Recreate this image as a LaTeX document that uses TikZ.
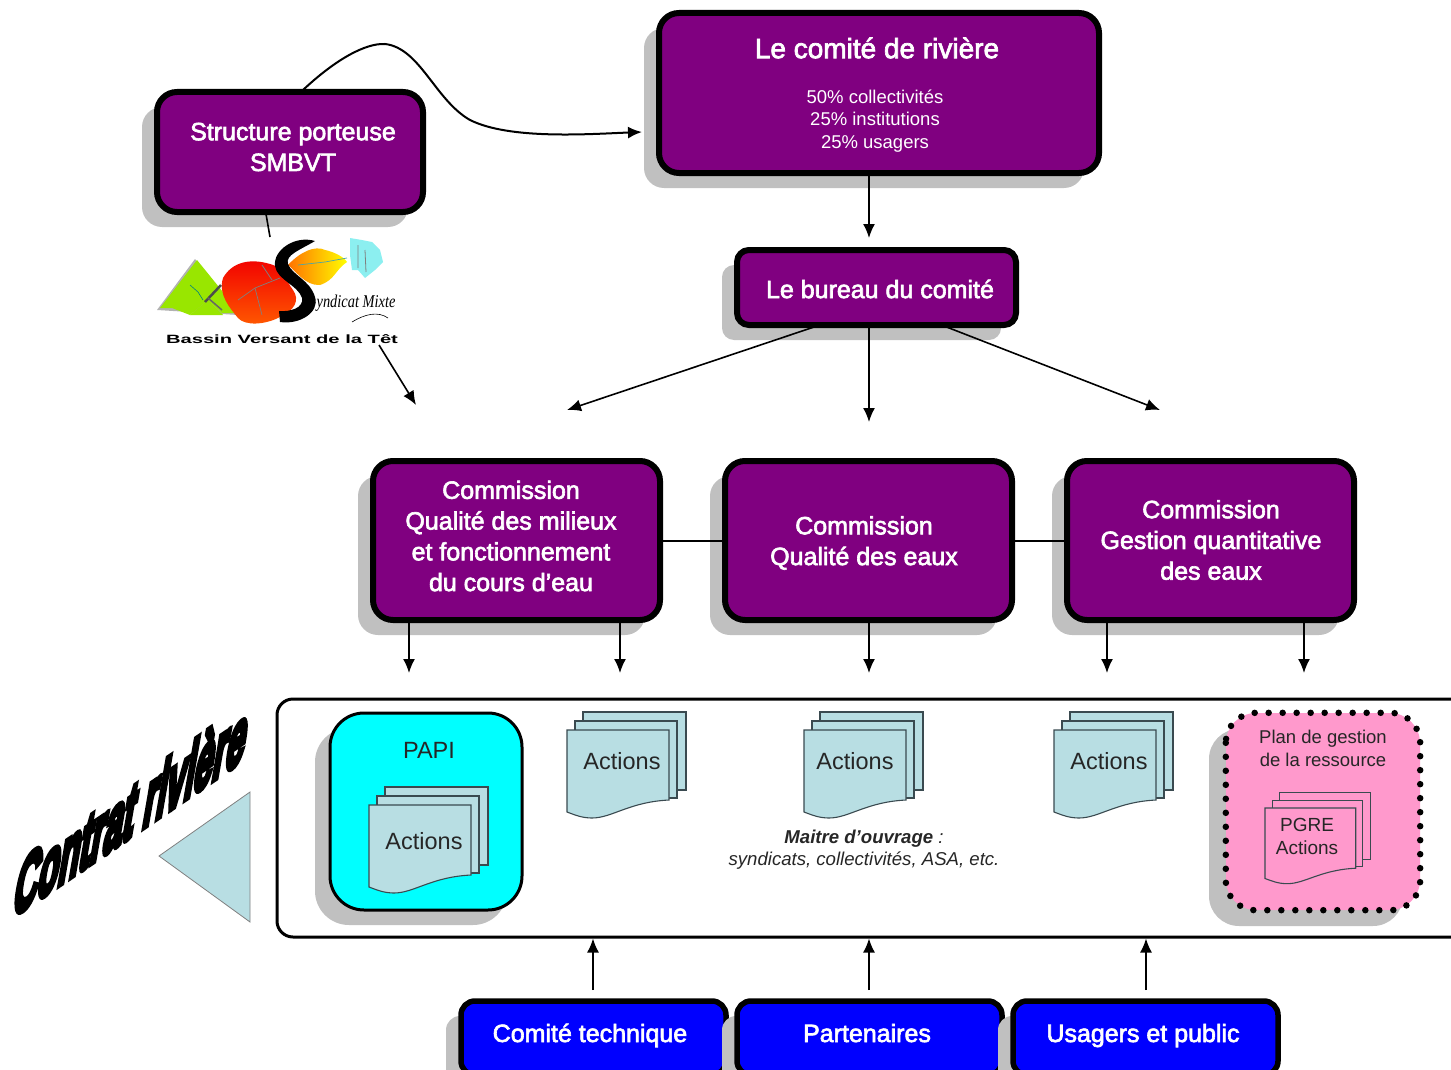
\documentclass[tikz,border=0pt]{standalone}
\usepackage{fontspec}
\setmainfont{Liberation Sans}
\newfontfamily\wordart[FakeBold=9]{Liberation Sans Bold}
\newfontfamily\softbold[FakeBold=2.5]{Liberation Sans}
\usetikzlibrary{arrows.meta,shadows}
\definecolor{purp}{HTML}{800080}
\definecolor{shade}{HTML}{C0C0C0}
\definecolor{pale}{HTML}{B8DEE3}
\definecolor{pinkish}{HTML}{FF99CC}
\definecolor{doc}{HTML}{3A4A50}
\definecolor{leaf}{HTML}{99E600}
\definecolor{aqua}{HTML}{00FFFF}
\definecolor{ice}{HTML}{8CEFF0}
\newcommand{\fs}[1]{\fontsize{#1}{\fpeval{#1*1.23}}\selectfont}
\tikzset{
  x=1pt,y=-1pt,
  shadowed/.style={general shadow={fill=shade,draw=none,shadow xshift=-15pt,shadow yshift=-15pt}},
  box/.style={shadowed,draw=black,rounded corners=20,line width=6,fill=purp,inner sep=0},
  bluebox/.style={shadowed,draw=black,rounded corners=14,line width=5.5,fill=blue,inner sep=0},
  wlabel/.style={text=white,align=center,font=\softbold\fs{25},inner sep=0},
  dlabel/.style={text=black!85,align=center,font=\fs{23.5},inner sep=0},
  conn/.style={line width=1.6,draw=black},
  arr/.style={conn,-{Latex[length=14,width=12]}},
  sheet/.style={draw=doc,line width=1.1,fill=pale},
}
% #1 position, #2 sheet fill, #3 x scale, #4 y scale
\newcommand{\docstack}[4]{%
  \begin{scope}[shift={#1},xscale=#3,yscale=#4]
    \draw[sheet,fill=#2] (16,-18) rectangle (119,60);
    \draw[sheet,fill=#2] (8,-9) rectangle (110,68);
    \draw[sheet,fill=#2] (0,0) -- (102,0) -- (102,70) .. controls (62,72) and (45,88) .. (25,88) .. controls (15,88) and (8,85) .. (0,82) -- cycle;
  \end{scope}}
\begin{document}
\begin{tikzpicture}
\useasboundingbox (0,0) rectangle (1451,1070);
\clip (0,0) rectangle (1451,1070);

% named free ends
\coordinate (cA) at (869,238);
\coordinate (t1) at (567,410);
\coordinate (t2) at (869,422);
\coordinate (t3) at (1160,410);
\coordinate (t0) at (416,405);
\coordinate (a1) at (409,673);
\coordinate (a2) at (620,673);
\coordinate (a3) at (869,673);
\coordinate (a4) at (1107,673);
\coordinate (a5) at (1304,673);

% boxes
\node[box,minimum width=266,minimum height=120] (structure) at (290,152) {};
\node[wlabel] (structureT) at (293,147) {Structure porteuse\\SMBVT};
\node[box,minimum width=440,minimum height=160] (comite) at (879,93) {};
\node[wlabel,font=\softbold\fs{28}] (comiteT) at (877,48) {Le comité de rivière};
\node[text=white,align=center,font=\fs{18.5},inner sep=0] (comiteL) at (875,121) {50\% collectivités\\[-0.2pt]25\% institutions\\[-0.2pt]25\% usagers};
\node[box,rounded corners=12,minimum width=279,minimum height=75] (bureau) at (876.5,287.5) {};
\node[wlabel] (bureauT) at (880,289) {Le bureau du comité};
\node[box,minimum width=287,minimum height=159] (c1) at (516.5,540.5) {};
\node[box,minimum width=287,minimum height=159] (c2) at (868.5,540.5) {};
\node[box,minimum width=287,minimum height=159] (c3) at (1210.5,540.5) {};
\node[wlabel] (c1T) at (511,536) {Commission\\Qualité des milieux\\et fonctionnement\\du cours d’eau};
\node[wlabel] (c2T) at (864,543) {Commission\\Qualité des eaux};
\node[wlabel] (c3T) at (1211,540) {Commission\\Gestion quantitative\\des eaux};

% connectors
\draw[conn] (c1.east |- 0,541) -- (c2.west |- 0,541);
\draw[conn] (c2.east |- 0,541) -- (c3.west |- 0,541);
\draw[arr] (comite.south -| cA) -- (cA);
\draw[arr] (bureau.south -| t2) -- (t2);
\coordinate (b1) at (817,326);
\coordinate (b3) at (944,326);
\draw[arr] (b1) -- (t1);
\draw[arr] (b3) -- (t3);
\foreach \c/\t in {c1/a1,c1/a2,c2/a3,c3/a4,c3/a5} \draw[arr] (\c.south -| \t) -- (\t);

% curve from structure to comite
\coordinate (s1) at (303,90);
\coordinate (s2) at (642,132);
\draw[arr,line width=2] (s1) .. controls (335,60) and (365,43) .. (385,44) .. controls (420,48) and (435,100) .. (470,120) .. controls (510,140) and (590,134) .. (s2);

% logo
\coordinate (s3) at (266,214);
\coordinate (s4) at (270,237);
\draw[conn] (s3) -- (s4);
\fill[black!30] (157,310) -- (195,259) -- (238,315) -- cycle;
\fill[leaf] (160,308) -- (197,260) -- (240,313) -- (222,313) -- (208,300) -- (190,315) -- (172,308) -- cycle;
\fill[leaf] (190,315) -- (208,300) -- (223,315) -- cycle;
\draw[black!70,line width=2.5] (205,302) -- (221,285);
\draw[black!60,line width=1.5] (208,298) -- (222,310);
\draw[teal,line width=.6] (190,285) -- (198,292) -- (203,300);
\path[top color=red!95!black,bottom color=orange!70!red] (223,278) .. controls (232,262) and (250,258) .. (270,264) .. controls (285,268) and (285,280) .. (293,290) .. controls (300,300) and (295,310) .. (280,317) .. controls (265,325) and (245,326) .. (238,318) .. controls (230,308) and (218,295) .. (223,278) -- cycle;
\draw[gray,line width=.7] (238,300) -- (255,288) -- (280,278);
\draw[gray,line width=.7] (255,288) -- (262,315);
\draw[gray,line width=.7] (262,265) -- (272,280);
\path[left color=orange!90!red,right color=yellow] (288,265) .. controls (300,252) and (315,245) .. (325,250) .. controls (335,252) and (345,258) .. (347,262) .. controls (335,270) and (335,280) .. (320,285) .. controls (305,286) and (295,270) .. (288,265) -- cycle;
\draw[teal!70,line width=.7] (298,265) -- (325,262) -- (347,258);
\fill[ice] (350,238) -- (362,240) -- (372,242) -- (380,250) -- (383,262) -- (375,270) -- (365,278) -- (358,270) -- (352,270) -- (350,255) -- cycle;
\draw[black!50,line width=.8] (358,245) -- (358,268) (365,250) -- (366,272);
\fill[black] (315,241) .. controls (295,235) and (273,250) .. (275,266) .. controls (277,280) and (298,285) .. (302,298) .. controls (304,308) and (290,312) .. (279,311) -- (280,322) .. controls (300,325) and (320,312) .. (315,297) .. controls (310,280) and (292,275) .. (288,264) .. controls (285,255) and (300,250) .. (315,241) -- cycle;
\node[inner sep=0,font=\fontspec{Liberation Serif Italic}\fs{18},xscale=.8] (syndicat) at (356,303) {yndicat Mixte};
\coordinate (sw1) at (352,322);
\coordinate (sw2) at (388,318);
\draw[line width=.6] (sw1) .. controls (365,314) and (378,311) .. (sw2);
\node[inner sep=0,font=\bfseries\fs{12},xscale=1.68] (bassin) at (282,339) {Bassin Versant de la Têt};
\coordinate (l1) at (379,345);
\draw[arr] (l1) -- (t0);

% contrat riviere
\draw[fill=pale,draw=black!50,line width=.8] (159,856) -- (250,792) -- (250,922) -- cycle;
\begin{scope}[shift={(132,809)},cm={0.47,0.32,0.2,1.15,(0,0)}]
  \node[transform shape,inner sep=0,font=\wordart\fs{72},text=black] (contrat) at (0,0) {Contrat rivière};
\end{scope}

% main frame
\node[draw=black,line width=3,rounded corners=16,fill=white,minimum width=1190,minimum height=238,inner sep=0] (frame) at (872,818) {};
\node[shadowed,draw=black,line width=3,rounded corners=34,fill=aqua,minimum width=192,minimum height=197,inner sep=0] (papi) at (426,811.5) {};
\node[dlabel] (papiT) at (429,750) {PAPI};
\docstack{(369,805)}{pale}{1}{1}
\node[dlabel] (act1) at (424,841) {Actions};
\docstack{(567,730)}{pale}{1}{1}
\node[dlabel] (act2) at (622,761) {Actions};
\docstack{(804,730)}{pale}{1}{1}
\node[dlabel] (act3) at (855,761) {Actions};
\docstack{(1054,730)}{pale}{1}{1}
\node[dlabel] (act4) at (1109,761) {Actions};

\node[inner sep=0,align=center,font=\fs{18.6},text=black!85] (moa) at (864,849.5) {{\bfseries\itshape Maitre d’ouvrage} \textit{:}\\[-0.5pt]\textit{syndicats, collectivités, ASA, etc.}};

\node[general shadow={fill=shade,draw=none,shadow xshift=-17pt,shadow yshift=-16pt},fill=pinkish,rounded corners=30,minimum width=194,minimum height=197,inner sep=0] (pink) at (1323,811.5) {};
\draw[line width=6.5,line cap=round,dash pattern=on 0pt off 14pt,rounded corners=30] (pink.north west) rectangle (pink.south east);
\node[inner sep=0,align=center,font=\fs{18.5},text=black!85] (pinkT) at (1323,748.5) {Plan de gestion\\[-0.3pt]de la ressource};
\docstack{(1265,808)}{pinkish}{0.89}{0.86}
\node[inner sep=0,align=center,font=\fs{19},text=black!85] (pgre) at (1307,836.5) {PGRE\\Actions};

% bottom
\node[bluebox,minimum width=265,minimum height=74] (ct) at (593.5,1038) {};
\node[bluebox,minimum width=265,minimum height=74] (pa) at (869.5,1038) {};
\node[bluebox,minimum width=265,minimum height=74] (us) at (1145.5,1038) {};
\node[wlabel,anchor=base] (ctT) at (590,1042) {Comité technique};
\node[wlabel,anchor=base] (paT) at (867,1042) {Partenaires};
\node[wlabel,anchor=base] (usT) at (1143,1042) {Usagers et public};
\coordinate (u1) at (593,990);
\coordinate (u2) at (869,990);
\coordinate (u3) at (1146,990);
\foreach \u in {u1,u2,u3} \draw[arr] (\u) -- (frame.south -| \u);
\end{tikzpicture}
\end{document}
